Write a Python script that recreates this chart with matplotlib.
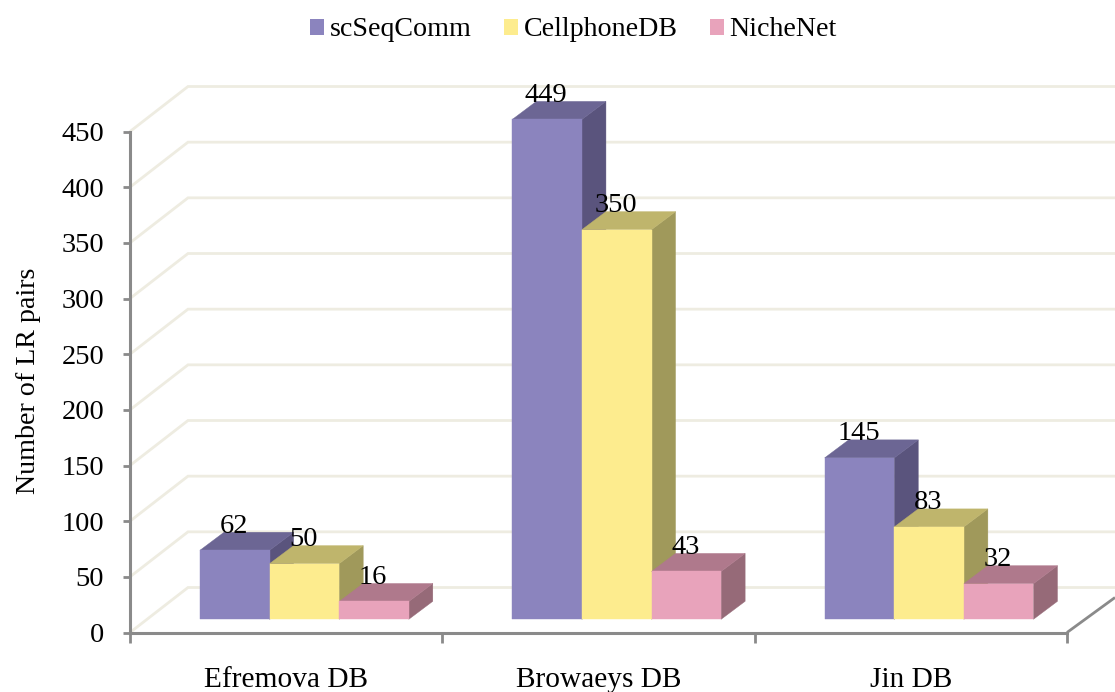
import matplotlib
matplotlib.use("Agg")
import matplotlib.pyplot as plt
from matplotlib.patches import Patch, Polygon
from matplotlib.transforms import Affine2D

plt.rcParams["font.family"] = ["Liberation Serif", "DejaVu Serif"]

categories = ["Efremova DB", "Browaeys DB", "Jin DB"]
series_names = ["scSeqComm", "CellphoneDB", "NicheNet"]
scseqcomm = [62, 449, 145]
cellphonedb = [50, 350, 83]
nichenet = [16, 43, 32]
y_ticks = list(range(0, 451, 50))

front_colors = ["#8B84BE", "#FDEC8E", "#E8A3BB"]
top_colors = ["#6C6694", "#BFB56C", "#AF798C"]
side_colors = ["#5A547D", "#A0995B", "#966A78"]
grid_color = "#EEECE1"
axis_color = "#8A8A8A"

W, H = 1115, 692
fig = plt.figure(figsize=(W / 100, H / 100), dpi=100, facecolor="white")
ax = fig.add_axes([130 / W, 1 - 632.5 / H, 937 / W, 501 / H])
ax.set_xlim(0, 3)
ax.set_ylim(0, 450)
ax.patch.set_alpha(0)

# Pseudo-3D geometry, expressed in data units
px_x = 3 / 937
px_y = 450 / 501
wall_dx, wall_dy = 58 * px_x, 45 * px_y
depth_dx, depth_dy = 24 * px_x, 18 * px_y
bar_w = 69.6 * px_x
group_pad = 70 * px_x
right_end = 3 + 48 * px_x

# Back wall and left wall gridlines
for v in y_ticks:
    ax.plot([0, wall_dx, right_end], [v, v + wall_dy, v + wall_dy],
            color=grid_color, lw=2.0, clip_on=False, zorder=1,
            solid_joinstyle="miter", solid_capstyle="butt")

# Right edge of the floor
ax.plot([3, right_end], [0, 35 * px_y], color=axis_color, lw=2.0,
        clip_on=False, zorder=2, solid_capstyle="butt")

# Bars stand on a floor raised slightly above the axis line
bar_transform = ax.transData + Affine2D().translate(0, 13.2)

all_series = [scseqcomm, cellphonedb, nichenet]
z = 3
for g in range(len(categories)):
    for s, values in enumerate(all_series):
        v = values[g]
        x0 = g + group_pad + s * bar_w
        x1 = x0 + bar_w
        side = [(x1, 0), (x1 + depth_dx, depth_dy),
                (x1 + depth_dx, v + depth_dy), (x1, v)]
        top = [(x0, v), (x1, v), (x1 + depth_dx, v + depth_dy),
               (x0 + depth_dx, v + depth_dy)]
        front = [(x0, 0), (x1, 0), (x1, v), (x0, v)]
        for pts, col in ((side, side_colors[s]), (top, top_colors[s]),
                         (front, front_colors[s])):
            ax.add_patch(Polygon(pts, closed=True, facecolor=col, edgecolor=col, lw=0.3,
                                 transform=bar_transform, clip_on=False, zorder=z))
            z += 1
        ax.text((x0 + x1) / 2 - 1 * px_x, v + 24 * px_y, str(v),
                transform=bar_transform, ha="center", va="center",
                fontsize=20.5, color="black", zorder=100, clip_on=False)

# Axes frame and ticks
for name in ("top", "right"):
    ax.spines[name].set_visible(False)
for name in ("left", "bottom"):
    ax.spines[name].set_color(axis_color)
    ax.spines[name].set_linewidth(2.2)
    ax.spines[name].set_zorder(2)

ax.set_yticks(y_ticks)
ax.tick_params(axis="y", length=5, width=2, color=axis_color, pad=13.5, labelsize=20.5)
ax.set_xticks([0, 1, 2, 3])
ax.set_xticklabels([])
ax.tick_params(axis="x", which="major", length=7, width=2, color=axis_color)
ax.set_xticks([0.5, 1.5, 2.5], minor=True)
ax.set_xticklabels(categories, minor=True, fontsize=21.2)
ax.tick_params(axis="x", which="minor", length=0, pad=25)

ax.set_ylabel("Number of LR pairs", fontsize=20.2)
ax.yaxis.set_label_coords(-89 / 937, (632.5 - 381) / 501)

handles = [Patch(facecolor=c, edgecolor="none") for c in front_colors]
fig.legend(handles, series_names, loc="center", bbox_to_anchor=(573.5 / W, 1 - 30 / H),
           ncol=3, frameon=False, fontsize=20.2, handlelength=0.5, handleheight=0.5,
           handletextpad=0.21, columnspacing=1.14, borderpad=0, borderaxespad=0)

fig.savefig("out.png", dpi=100, facecolor="white")
